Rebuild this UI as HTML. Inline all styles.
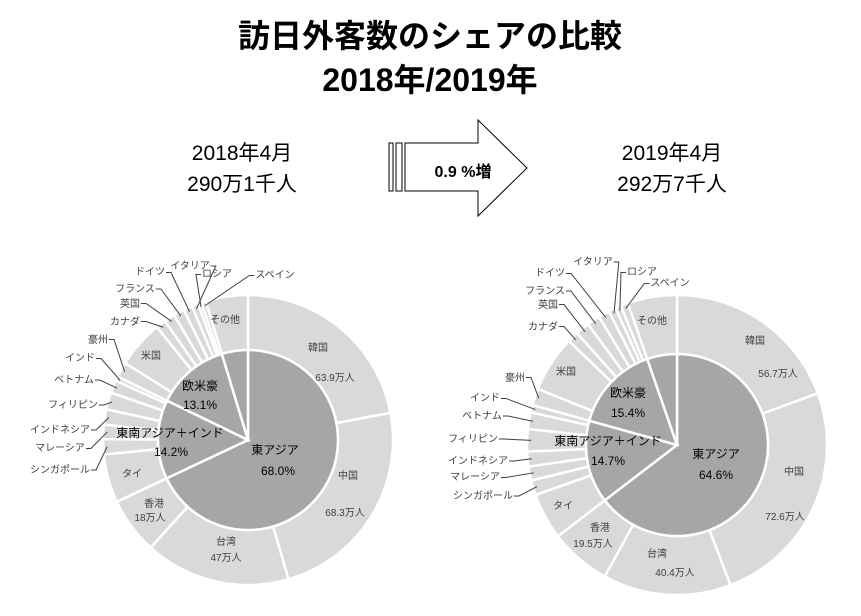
<!DOCTYPE html>
<html><head><meta charset="utf-8">
<style>
html,body{margin:0;padding:0;background:#fff;}
svg{display:block;font-family:"Liberation Sans","Noto Sans CJK JP",sans-serif;}
.s{font-size:10px;fill:#404040;}
.m{font-size:12px;fill:#000;}
</style></head>
<body>
<svg id="sv" width="861" height="616" viewBox="0 0 861 616">
<text x="430" y="47" text-anchor="middle" font-size="32" font-weight="bold" fill="#000">訪日外客数のシェアの比較</text>
<text x="430" y="91" text-anchor="middle" font-size="32" font-weight="bold" fill="#000">2018年/2019年</text>
<text x="242" y="160" text-anchor="middle" font-size="21" fill="#000">2018年4月</text>
<text x="242" y="191" text-anchor="middle" font-size="21" fill="#000">290万1千人</text>
<text x="672" y="160" text-anchor="middle" font-size="21" fill="#000">2019年4月</text>
<text x="672" y="191" text-anchor="middle" font-size="21" fill="#000">292万7千人</text>
<rect x="389" y="143" width="4" height="48" fill="#fff" stroke="#000" stroke-width="1"/>
<rect x="396" y="143" width="6" height="48" fill="#fff" stroke="#000" stroke-width="1"/>
<polygon points="405,143 478,143 478,120 527,168 478,216 478,191 405,191" fill="#fff" stroke="#000" stroke-width="1"/>
<text x="463" y="177" text-anchor="middle" font-size="16" font-weight="bold" fill="#000">0.9 %増</text>
<g id="pieL"></g><g id="pieR"></g>
<g id="labL">
<text class="s" x="225" y="323" text-anchor="middle">その他</text>
<text class="s" x="318" y="351" text-anchor="middle">韓国</text>
<text class="s" x="335" y="381" text-anchor="middle">63.9万人</text>
<text class="s" x="348" y="479" text-anchor="middle">中国</text>
<text class="s" x="345" y="516" text-anchor="middle">68.3万人</text>
<text class="s" x="226" y="545" text-anchor="middle">台湾</text>
<text class="s" x="226" y="561" text-anchor="middle">47万人</text>
<text class="s" x="154" y="507" text-anchor="middle">香港</text>
<text class="s" x="150" y="521" text-anchor="middle">18万人</text>
<text class="s" x="132" y="477" text-anchor="middle">タイ</text>
<text class="s" x="151" y="359" text-anchor="middle">米国</text>
<text class="m" x="200" y="390" text-anchor="middle">欧米豪</text>
<text class="m" x="200" y="409" text-anchor="middle">13.1%</text>
<text class="m" x="170" y="437" text-anchor="middle">東南アジア＋インド</text>
<text class="m" x="171" y="456" text-anchor="middle">14.2%</text>
<text class="m" x="275" y="454" text-anchor="middle">東アジア</text>
<text class="m" x="278" y="475" text-anchor="middle">68.0%</text>
</g>
<g id="labR">
<text class="s" x="652" y="324" text-anchor="middle">その他</text>
<text class="s" x="755" y="344" text-anchor="middle">韓国</text>
<text class="s" x="778" y="377" text-anchor="middle">56.7万人</text>
<text class="s" x="794" y="475" text-anchor="middle">中国</text>
<text class="s" x="785" y="520" text-anchor="middle">72.6万人</text>
<text class="s" x="657" y="557" text-anchor="middle">台湾</text>
<text class="s" x="675" y="576" text-anchor="middle">40.4万人</text>
<text class="s" x="600" y="531" text-anchor="middle">香港</text>
<text class="s" x="593" y="547" text-anchor="middle">19.5万人</text>
<text class="s" x="563" y="509" text-anchor="middle">タイ</text>
<text class="s" x="566" y="375" text-anchor="middle">米国</text>
<text class="m" x="628" y="397" text-anchor="middle">欧米豪</text>
<text class="m" x="628" y="417" text-anchor="middle">15.4%</text>
<text class="m" x="608" y="445" text-anchor="middle">東南アジア＋インド</text>
<text class="m" x="608" y="465" text-anchor="middle">14.7%</text>
<text class="m" x="716" y="458" text-anchor="middle">東アジア</text>
<text class="m" x="716" y="479" text-anchor="middle">64.6%</text>
</g>
<g id="leadL">
<text class="s" data-i="19" x="275" y="278" text-anchor="middle">スペイン</text>
<text class="s" data-i="18" x="217" y="277" text-anchor="middle">ロシア</text>
<text class="s" data-i="17" x="190" y="269" text-anchor="middle">イタリア</text>
<text class="s" data-i="16" x="150" y="275" text-anchor="middle">ドイツ</text>
<text class="s" data-i="15" x="135" y="292" text-anchor="middle">フランス</text>
<text class="s" data-i="14" x="130" y="307" text-anchor="middle">英国</text>
<text class="s" data-i="13" x="125" y="325" text-anchor="middle">カナダ</text>
<text class="s" data-i="11" x="98" y="343" text-anchor="middle">豪州</text>
<text class="s" data-i="10" x="80" y="361" text-anchor="middle">インド</text>
<text class="s" data-i="9" x="74" y="383" text-anchor="middle">ベトナム</text>
<text class="s" data-i="8" x="73" y="408" text-anchor="middle">フィリピン</text>
<text class="s" data-i="7" x="60" y="433" text-anchor="middle">インドネシア</text>
<text class="s" data-i="6" x="60" y="451" text-anchor="middle">マレーシア</text>
<text class="s" data-i="5" x="60" y="473" text-anchor="middle">シンガポール</text>
</g>
<g id="leadR">
<text class="s" data-i="19" x="670" y="286" text-anchor="middle">スペイン</text>
<text class="s" data-i="18" x="642" y="275" text-anchor="middle">ロシア</text>
<text class="s" data-i="17" x="593" y="265" text-anchor="middle">イタリア</text>
<text class="s" data-i="16" x="550" y="276" text-anchor="middle">ドイツ</text>
<text class="s" data-i="15" x="545" y="294" text-anchor="middle">フランス</text>
<text class="s" data-i="14" x="548" y="308" text-anchor="middle">英国</text>
<text class="s" data-i="13" x="543" y="330" text-anchor="middle">カナダ</text>
<text class="s" data-i="11" x="515" y="381" text-anchor="middle">豪州</text>
<text class="s" data-i="10" x="485" y="401" text-anchor="middle">インド</text>
<text class="s" data-i="9" x="482" y="419" text-anchor="middle">ベトナム</text>
<text class="s" data-i="8" x="473" y="442" text-anchor="middle">フィリピン</text>
<text class="s" data-i="7" x="478" y="464" text-anchor="middle">インドネシア</text>
<text class="s" data-i="6" x="475" y="480" text-anchor="middle">マレーシア</text>
<text class="s" data-i="5" x="483" y="499" text-anchor="middle">シンガポール</text>
</g>
</svg>
<script>
var NS="http://www.w3.org/2000/svg";
function pt(cx,cy,r,a){var t=a*Math.PI/180;return [cx+r*Math.sin(t),cy-r*Math.cos(t)];}
function wedge(g,cx,cy,r0,r1,a0,a1,fill){
 var p=document.createElementNS(NS,"path");
 var lg=(a1-a0)>180?1:0;
 var A=pt(cx,cy,r1,a0),B=pt(cx,cy,r1,a1),d;
 if(r0>0){var C=pt(cx,cy,r0,a1),D=pt(cx,cy,r0,a0);
  d="M"+A+" A"+r1+","+r1+" 0 "+lg+" 1 "+B+" L"+C+" A"+r0+","+r0+" 0 "+lg+" 0 "+D+"Z";}
 else d="M"+cx+","+cy+" L"+A+" A"+r1+","+r1+" 0 "+lg+" 1 "+B+"Z";
 p.setAttribute("d",d);p.setAttribute("fill",fill);p.setAttribute("stroke","#fff");p.setAttribute("stroke-width","2.5");
 g.appendChild(p);}
function pie(gid,lid,cx,cy,ri,ro,inner,outer){
 var g=document.getElementById(gid),s=0,tot=0,i;
 outer.forEach(function(v){tot+=v;});
 var mids=[],a=0;
 for(i=0;i<outer.length;i++){var b=a+outer[i]/tot*360;wedge(g,cx,cy,ri,ro,a,b,"#d9d9d9");mids.push((a+b)/2);a=b;}
 a=0;for(i=0;i<inner.length;i++){var b=a+inner[i]/100*360;wedge(g,cx,cy,0,ri,a,b,"#a6a6a6");a=b;}
 var L=document.getElementById(lid);
 Array.prototype.forEach.call(L.querySelectorAll("text"),function(t){
  var k=+t.getAttribute("data-i"),bb=t.getBBox(),P=pt(cx,cy,ro-4,mids[k]);
  var sx,sy=bb.y+bb.height/2,mx;
  if(bb.x+bb.width/2>P[0]){sx=bb.x-1;mx=sx-5;}else{sx=bb.x+bb.width+1;mx=sx+5;}
  var pl=document.createElementNS(NS,"polyline");
  pl.setAttribute("points",sx+","+sy+" "+mx+","+sy+" "+P[0]+","+P[1]);
  pl.setAttribute("fill","none");pl.setAttribute("stroke","#404040");pl.setAttribute("stroke-width","1");
  L.appendChild(pl);});
}
pie("pieL","leadL",248,440,90,145,[68.0,14.2,13.1,4.7],
 [22.0,23.5,16.2,6.3,5.4,1.7,1.6,1.7,1.9,1.4,0.5,1.7,5.3,1.1,1.2,1.2,1.0,0.7,0.4,0.5,4.7]);
pie("pieR","leadR",677,445,91,150,[64.6,14.7,15.4,5.3],
 [19.4,24.8,13.8,6.6,5.0,1.6,1.5,1.6,2.4,1.8,0.8,1.8,6.1,1.2,1.5,1.4,1.2,0.8,0.6,0.8,5.3]);
</script>
</body></html>
